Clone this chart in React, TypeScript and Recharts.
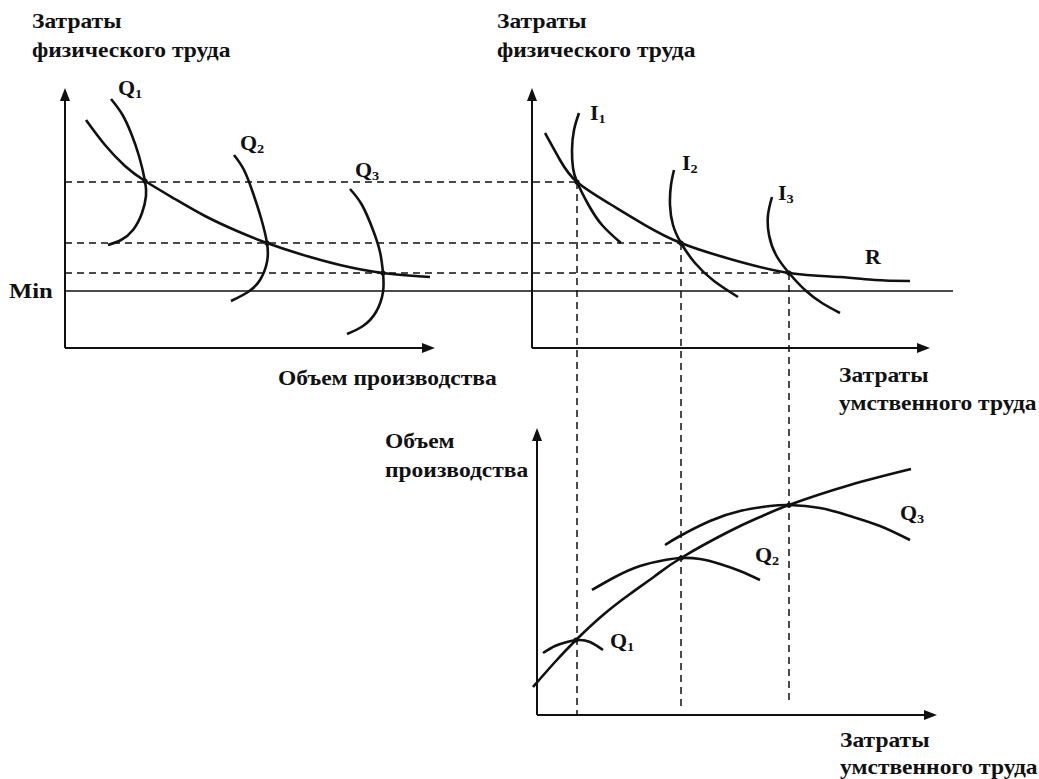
import React from 'react';
import { ComposedChart, Line, Scatter, XAxis, YAxis } from 'recharts';

type Pt = { x: number; y: number };

// Schematic drawn on one canvas grid: x grows right, y grows downward
const W = 1039;
const H = 779;

// left panel: cost curve and isoquants Q1..Q3
const leftCost: Pt[] = [
  { x: 86, y: 120 }, { x: 105, y: 145 }, { x: 125, y: 166 }, { x: 145, y: 181 },
  { x: 175, y: 199 }, { x: 205, y: 216 }, { x: 237, y: 231 }, { x: 267, y: 243 },
  { x: 300, y: 254 }, { x: 340, y: 265 }, { x: 383, y: 273 }, { x: 430, y: 277 },
];
const leftQ1: Pt[] = [
  { x: 111, y: 99 }, { x: 122, y: 114 }, { x: 131, y: 133 }, { x: 139, y: 156 },
  { x: 145, y: 181 }, { x: 146, y: 196 }, { x: 142, y: 213 }, { x: 133, y: 230 },
  { x: 121, y: 240 }, { x: 108, y: 245 },
];
const leftQ2: Pt[] = [
  { x: 234, y: 155 }, { x: 244, y: 170 }, { x: 253, y: 193 }, { x: 261, y: 218 },
  { x: 267, y: 243 }, { x: 267, y: 262 }, { x: 260, y: 280 }, { x: 248, y: 292 },
  { x: 231, y: 301 },
];
const leftQ3: Pt[] = [
  { x: 350, y: 189 }, { x: 362, y: 205 }, { x: 373, y: 230 }, { x: 380, y: 252 },
  { x: 383, y: 273 }, { x: 383, y: 292 }, { x: 376, y: 312 }, { x: 363, y: 326 },
  { x: 347, y: 334 },
];

// right panel: R curve and I1..I3
const rightR: Pt[] = [
  { x: 545, y: 133 }, { x: 560, y: 160 }, { x: 577, y: 182 }, { x: 610, y: 204 },
  { x: 645, y: 225 }, { x: 681, y: 243 }, { x: 730, y: 259 }, { x: 789, y: 273 },
  { x: 840, y: 277 }, { x: 875, y: 280 }, { x: 910, y: 281 },
];
const rightI1: Pt[] = [
  { x: 579, y: 113 }, { x: 574, y: 130 }, { x: 572, y: 150 }, { x: 573, y: 168 },
  { x: 577, y: 182 }, { x: 588, y: 204 }, { x: 602, y: 225 }, { x: 621, y: 243 },
];
const rightI2: Pt[] = [
  { x: 674, y: 170 }, { x: 671, y: 185 }, { x: 670, y: 205 }, { x: 673, y: 225 },
  { x: 681, y: 243 }, { x: 695, y: 263 }, { x: 714, y: 281 }, { x: 738, y: 297 },
];
const rightI3: Pt[] = [
  { x: 772, y: 197 }, { x: 768, y: 215 }, { x: 769, y: 235 }, { x: 776, y: 255 },
  { x: 789, y: 273 }, { x: 805, y: 290 }, { x: 822, y: 303 }, { x: 840, y: 313 },
];

// bottom panel: output curve and Q1..Q3 arcs
const bottomOutput: Pt[] = [
  { x: 533, y: 687 }, { x: 555, y: 662 }, { x: 576, y: 640 }, { x: 603, y: 615 },
  { x: 630, y: 594 }, { x: 655, y: 576 }, { x: 681, y: 558 }, { x: 730, y: 531 },
  { x: 760, y: 517 }, { x: 789, y: 505 }, { x: 850, y: 485 }, { x: 911, y: 469 },
];
const bottomQ1: Pt[] = [
  { x: 543, y: 653 }, { x: 555, y: 646 }, { x: 567, y: 642 }, { x: 578, y: 640 },
  { x: 590, y: 642 }, { x: 603, y: 650 },
];
const bottomQ2: Pt[] = [
  { x: 592, y: 590 }, { x: 615, y: 577 }, { x: 640, y: 566 }, { x: 665, y: 560 },
  { x: 681, y: 558 }, { x: 700, y: 559 }, { x: 720, y: 564 }, { x: 740, y: 571 },
  { x: 760, y: 580 },
];
const bottomQ3: Pt[] = [
  { x: 665, y: 545 }, { x: 680, y: 536 }, { x: 710, y: 521 }, { x: 740, y: 511 },
  { x: 770, y: 506 }, { x: 789, y: 505 }, { x: 820, y: 508 }, { x: 850, y: 516 },
  { x: 880, y: 526 }, { x: 910, y: 540 },
];

const curves = [leftCost, leftQ1, leftQ2, leftQ3, rightR, rightI1, rightI2, rightI3,
  bottomOutput, bottomQ1, bottomQ2, bottomQ3];

// axes (shaft ends) and arrow tips
const axisShafts: Pt[][] = [
  [{ x: 65, y: 348 }, { x: 65, y: 94 }], [{ x: 65, y: 348 }, { x: 429, y: 348 }],
  [{ x: 532, y: 348 }, { x: 532, y: 94 }], [{ x: 532, y: 348 }, { x: 924, y: 348 }],
  [{ x: 537, y: 715 }, { x: 537, y: 434 }], [{ x: 537, y: 715 }, { x: 931, y: 715 }],
];
const arrowTips = [
  { x: 65, y: 88, dir: 'up' }, { x: 435, y: 348, dir: 'right' },
  { x: 532, y: 88, dir: 'up' }, { x: 930, y: 348, dir: 'right' },
  { x: 537, y: 428, dir: 'up' }, { x: 937, y: 715, dir: 'right' },
];

// guide lines
const minLine: Pt[] = [{ x: 65, y: 291 }, { x: 953, y: 291 }];
const dashedLines: Pt[][] = [
  [{ x: 65, y: 182 }, { x: 577, y: 182 }],
  [{ x: 65, y: 243 }, { x: 681, y: 243 }],
  [{ x: 65, y: 273 }, { x: 789, y: 273 }],
  [{ x: 577, y: 182 }, { x: 577, y: 715 }],
  [{ x: 681, y: 243 }, { x: 681, y: 710 }],
  [{ x: 789, y: 273 }, { x: 789, y: 705 }],
];

const crossings: Pt[] = [
  { x: 145, y: 181 }, { x: 267, y: 243 }, { x: 383, y: 273 },
  { x: 577, y: 182 }, { x: 681, y: 243 }, { x: 789, y: 273 },
  { x: 576, y: 640 }, { x: 681, y: 558 }, { x: 789, y: 505 },
];

// axis captions (baseline, left edge)
const captions = [
  { x: 32, y: 28, text: 'Затраты' },
  { x: 32, y: 57, text: 'физического труда' },
  { x: 497, y: 28, text: 'Затраты' },
  { x: 497, y: 57, text: 'физического труда' },
  { x: 278, y: 385, text: 'Объем производства' },
  { x: 839, y: 382, text: 'Затраты' },
  { x: 839, y: 410, text: 'умственного труда' },
  { x: 385, y: 448, text: 'Объем' },
  { x: 385, y: 477, text: 'производства' },
  { x: 840, y: 747, text: 'Затраты' },
  { x: 840, y: 774, text: 'умственного труда' },
  { x: 9, y: 298, text: 'Min', big: true },
];

// curve names with subscripts
const curveNames = [
  { x: 118, y: 95, main: 'Q', sub: '1' },
  { x: 240, y: 150, main: 'Q', sub: '2' },
  { x: 355, y: 177, main: 'Q', sub: '3' },
  { x: 590, y: 120, main: 'I', sub: '1' },
  { x: 682, y: 170, main: 'I', sub: '2' },
  { x: 778, y: 200, main: 'I', sub: '3' },
  { x: 865, y: 264, main: 'R', sub: '' },
  { x: 610, y: 648, main: 'Q', sub: '1' },
  { x: 755, y: 562, main: 'Q', sub: '2' },
  { x: 900, y: 520, main: 'Q', sub: '3' },
];

const FONT = '"Liberation Serif", "Times New Roman", serif';
const INK = '#111';

const ArrowShape = (p: any) => {
  const { cx, cy, payload } = p;
  const pts = payload.dir === 'up'
    ? `${cx},${cy} ${cx - 5},${cy + 13} ${cx + 5},${cy + 13}`
    : `${cx},${cy} ${cx - 13},${cy - 5} ${cx - 13},${cy + 5}`;
  return <polygon points={pts} fill={INK} />;
};

const DotShape = (p: any) => <circle cx={p.cx} cy={p.cy} r={2.6} fill={INK} />;

const CaptionShape = (p: any) => (
  <text transform={`translate(${p.cx} ${p.cy}) scale(1.12 1)`} fontFamily={FONT}
    fontWeight="bold" fontSize={p.payload.big ? 22 : 21} fill={INK}>
    {p.payload.text}
  </text>
);

const NameShape = (p: any) => (
  <text transform={`translate(${p.cx} ${p.cy}) scale(1.1 1)`} fontFamily={FONT}
    fontWeight="bold" fontSize={20} fill={INK}>
    <tspan>{p.payload.main}</tspan>
    {p.payload.sub && <tspan fontSize={13} dy={3}>{p.payload.sub}</tspan>}
  </text>
);

export default function App() {
  return (
    <div style={{ position: 'absolute', left: 0, top: 0, width: W, height: H, background: '#fff' }}>
      <ComposedChart width={W} height={H} margin={{ top: 0, right: 0, bottom: 0, left: 0 }}>
        <XAxis dataKey="x" type="number" domain={[0, W]} hide />
        <YAxis dataKey="y" type="number" domain={[0, H]} reversed hide />
        {axisShafts.map((seg, i) => (
          <Line key={`ax${i}`} data={seg} dataKey="y" type="linear" stroke={INK} strokeWidth={2}
            dot={false} isAnimationActive={false} />
        ))}
        <Line data={minLine} dataKey="y" type="linear" stroke={INK} strokeWidth={1.5}
          dot={false} isAnimationActive={false} />
        {dashedLines.map((seg, i) => (
          <Line key={`d${i}`} data={seg} dataKey="y" type="linear" stroke={INK} strokeWidth={1.5}
            strokeDasharray="7 5" dot={false} isAnimationActive={false} />
        ))}
        {curves.map((c, i) => (
          <Line key={`c${i}`} data={c} dataKey="y" type="natural" stroke={INK} strokeWidth={2.6}
            dot={false} isAnimationActive={false} />
        ))}
        <Scatter data={arrowTips} shape={ArrowShape} isAnimationActive={false} />
        <Scatter data={crossings} shape={DotShape} isAnimationActive={false} />
        <Scatter data={captions} shape={CaptionShape} isAnimationActive={false} />
        <Scatter data={curveNames} shape={NameShape} isAnimationActive={false} />
      </ComposedChart>
    </div>
  );
}
